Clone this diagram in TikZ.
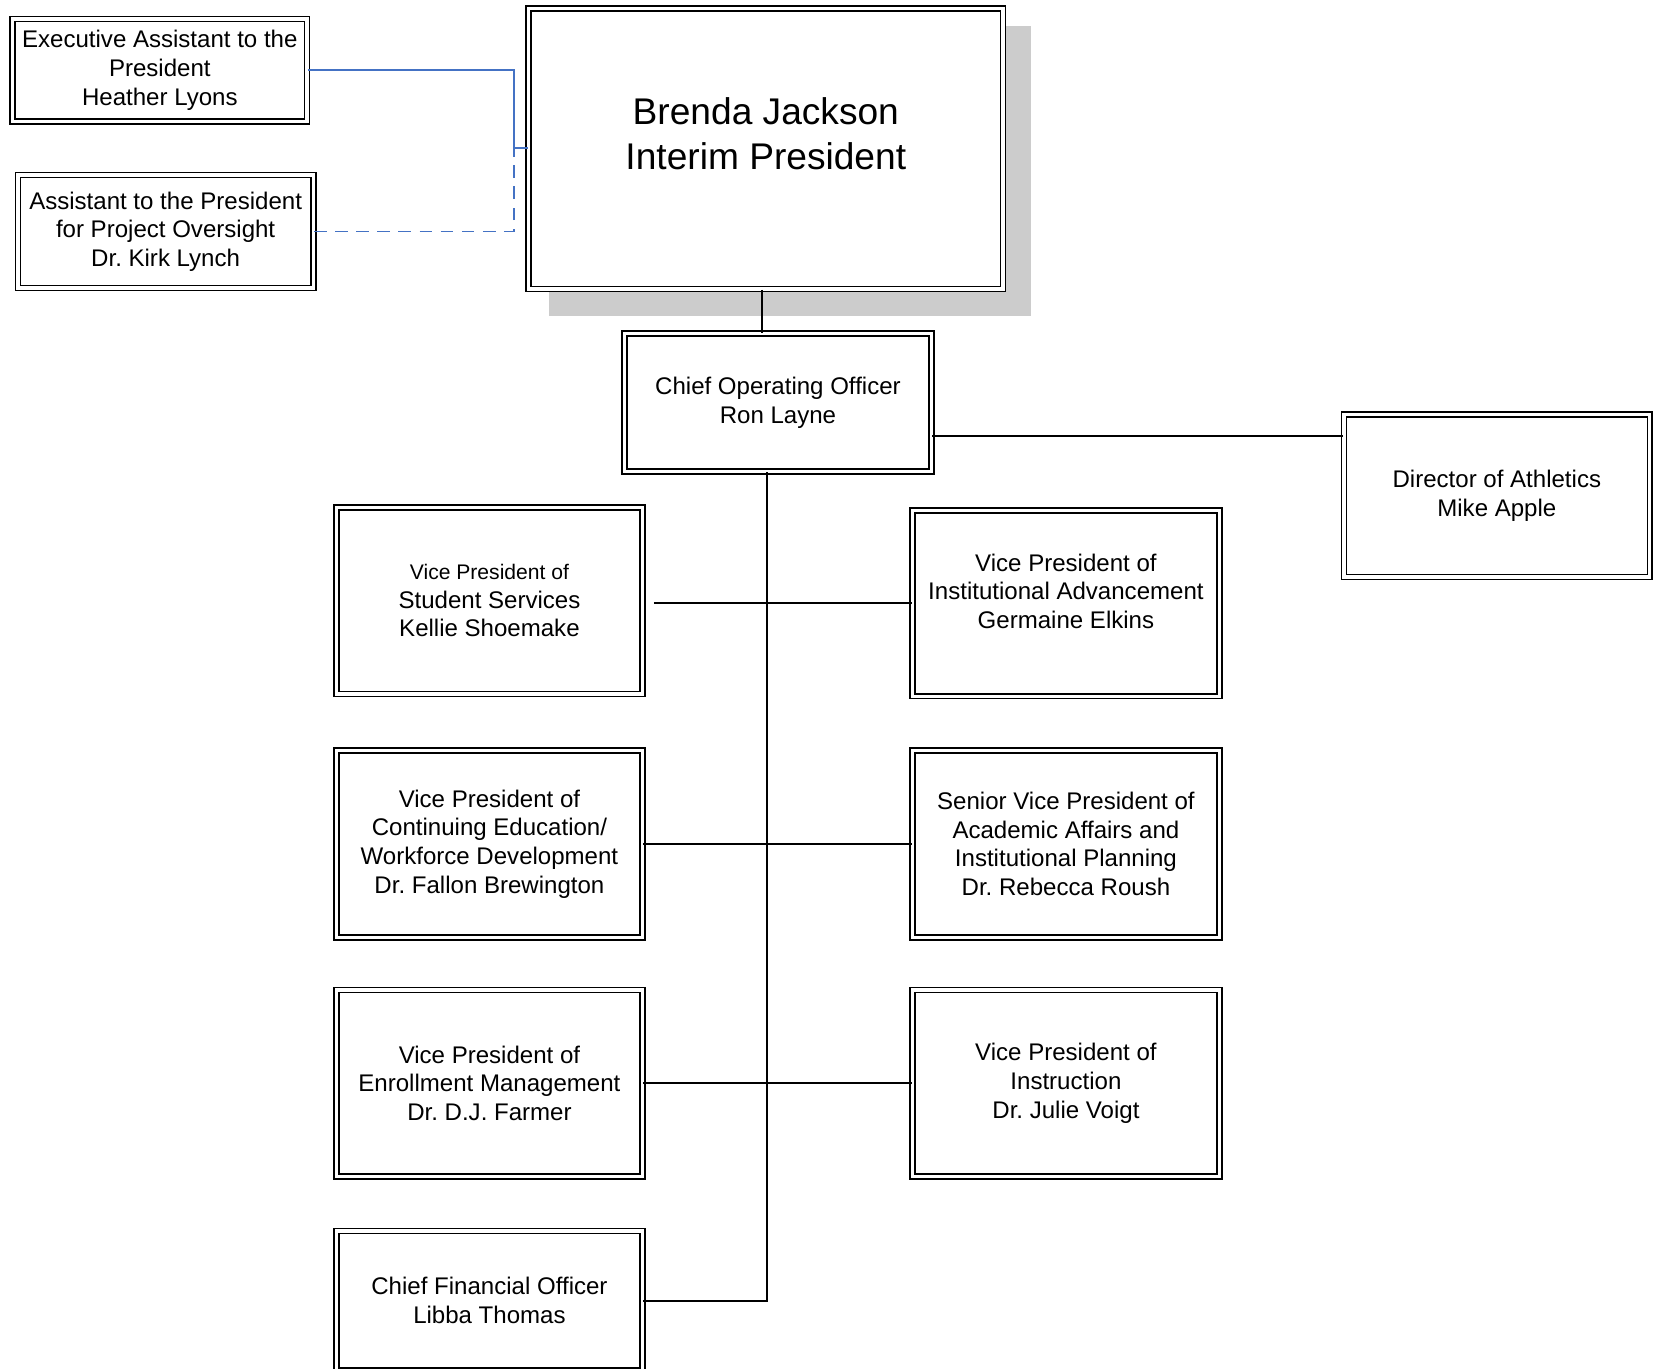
\documentclass[tikz,border=0pt]{standalone}
\usepackage{fontspec}
\setmainfont{Liberation Sans}
\usepackage{xcolor}
\usepackage{tikz}
\usetikzlibrary{positioning}

\definecolor{linkblue}{RGB}{68,114,196}
\definecolor{shadowgray}{RGB}{204,204,204}
\newcommand{\boxfont}{\frenchspacing\fontsize{11.4}{13.6}\selectfont}
\newcommand{\smallboxfont}{\fontsize{10}{13.6}\selectfont}
\newcommand{\bigboxfont}{\fontsize{17.6}{21.5}\selectfont}

\tikzset{
  orgbox/.style={draw, double, double distance=1.6pt, line width=0.75pt, fill=white,
    align=center, inner sep=0pt, font=\boxfont,
    minimum width=145pt, minimum height=88.5pt},
  link/.style={line width=0.85pt},
}

\begin{document}
\begin{tikzpicture}[x=0.5pt,y=-0.5pt]
\useasboundingbox (0,0) rectangle (1568,1297);

% president and shadow
\fill[shadowgray] (520,25) rectangle (977,300);
\node[orgbox, minimum width=225pt, minimum height=133pt] (pres) at (726,141) {};
\node[font=\bigboxfont, align=center] (presname) at (726,126.5) {Brenda Jackson\\Interim President};

% assistants
\node[orgbox, minimum width=139.5pt, minimum height=48.5pt] (exec) at (151.5,66.5)
  {Executive Assistant to the\\President\\Heather Lyons};
\node[orgbox, minimum width=140pt, minimum height=53.5pt] (overs) at (157,219.5)
  {Assistant to the President\\for Project Oversight\\Dr. Kirk Lynch};

% coo and athletics
\node[orgbox, minimum width=145.5pt, minimum height=65.5pt] (coo) at (737.5,381.5)
  {Chief Operating Officer\\Ron Layne};
\node[orgbox, minimum height=77pt] (ath) at (1419,470)
  {Director of Athletics\\Mike Apple};

% vice presidents
\node[orgbox] (vpss) at (464,569.5)
  {{\smallboxfont Vice President of}\\Student Services\\Kellie Shoemake};
\node[orgbox, minimum width=145.5pt, minimum height=88pt] (vpia) at (1010.5,572)
  {Vice President of\\Institutional Advancement\\Germaine Elkins\\[-2pt]};
\node[orgbox] (vpce) at (464,800)
  {Vice President of\\Continuing Education/\\Workforce Development\\Dr. Fallon Brewington};
\node[orgbox, minimum width=145.5pt] (svp) at (1010.5,800)
  {Senior Vice President of\\Academic Affairs and\\Institutional Planning\\Dr. Rebecca Roush};
\node[orgbox] (vpem) at (464,1027)
  {Vice President of\\Enrollment Management\\Dr. D.J. Farmer};
\node[orgbox, minimum width=145.5pt] (vpi) at (1010.5,1027)
  {Vice President of\\Instruction\\Dr. Julie Voigt};
\node[orgbox, minimum height=66pt] (cfo) at (464,1233)
  {Chief Financial Officer\\Libba Thomas};

% connectors
\coordinate (jn) at (487,140);
\coordinate (drop) at (722,0);
\coordinate (athy) at (0,413);
\coordinate (trunk) at (727,1232);

\draw[link, linkblue] (exec.east) -| (jn) -- (jn -| pres.west);
\draw[link, linkblue, dash pattern=on 6pt off 4pt] (overs.east) -| (jn);
\draw[link] (pres.south -| drop) -- (coo.north -| drop);
\draw[link] (coo.east |- athy) -- (ath.west |- athy);
\draw[link] (coo.south -| trunk) |- (cfo.east);
\draw[link] ([xshift=5]vpss.east |- vpia.west) -- (vpia.west);
\draw[link] (vpce.east) -- (svp.west);
\draw[link] (vpem.east) -- (vpi.west);
\end{tikzpicture}
\end{document}
